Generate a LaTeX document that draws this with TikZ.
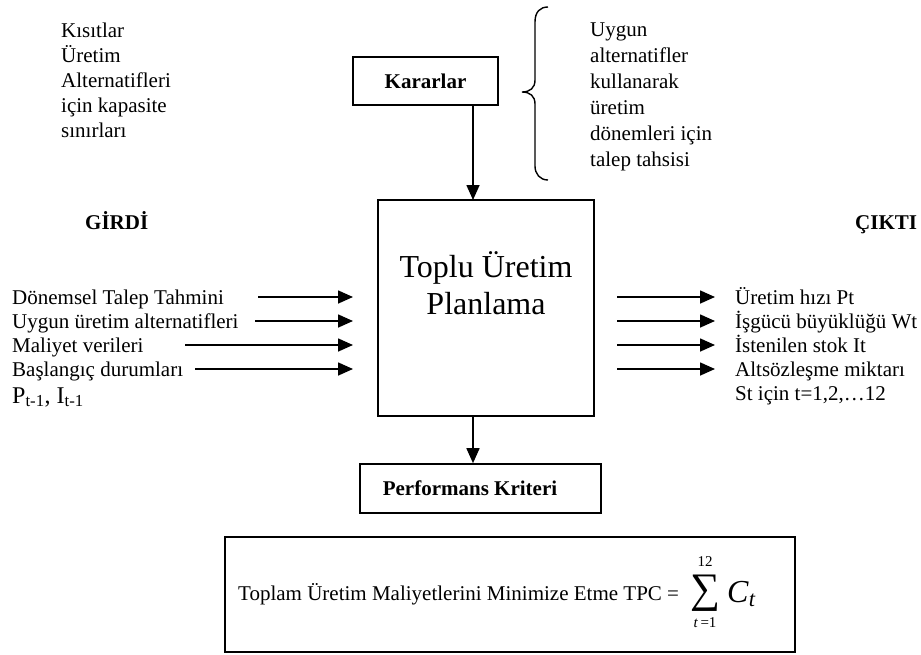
\documentclass[tikz,border=0pt]{standalone}
\usepackage{fontspec}
\setmainfont{Liberation Serif}
\usetikzlibrary{arrows.meta}
\begin{document}
\begin{tikzpicture}[x=1pt,y=-1pt,
  box/.style={draw,line width=1.6pt,inner sep=0pt},
  txt/.style={inner sep=0pt,font=\fontsize{21}{25}\selectfont},
  btxt/.style={inner sep=0pt,font=\fontsize{21}{25}\selectfont\bfseries},
  arr/.style={line width=1.6pt,-{Triangle[length=15pt,width=13pt]}}]
\useasboundingbox (0,0) rectangle (921,654);
% top left text
\node[txt,anchor=north west,align=left,font=\fontsize{21}{25}\selectfont] (kisit) at (61,23)
  {Kısıtlar\\Üretim\\Alternatifleri\\için kapasite\\sınırları};
% Kararlar
\node[box,minimum width=145pt,minimum height=48pt] (karar) at (425.5,81) {};
\node[btxt,anchor=base] (karart) at (425.5,88) {Kararlar};
% brace
\draw[line width=1.4pt] (548,7) .. controls (540,7) and (535,12) .. (535,22) -- (535,80)
  .. controls (535,88) and (530,92) .. (522,92) .. controls (530,92) and (535,96) .. (535,104)
  -- (535,166) .. controls (535,174) and (540,180) .. (548,180);
\node[txt,anchor=north west,align=left,font=\fontsize{21}{26}\selectfont] (tahsis) at (590,23)
  {Uygun\\alternatifler\\kullanarak\\üretim\\dönemleri için\\talep tahsisi};
% main box
\node[box,minimum width=216pt,minimum height=216pt] (toplu) at (486,308) {};
\node[inner sep=0pt,anchor=base,font=\fontsize{32}{37}\selectfont] (t1) at (486,277) {Toplu Üretim};
\node[inner sep=0pt,anchor=base,font=\fontsize{32}{37}\selectfont] (t2) at (486,314) {Planlama};
\coordinate (topin) at (473,105);
\coordinate (topout) at (473,200);
\draw[arr] (topin) -- (topout);
% GIRDI / CIKTI
\node[btxt,anchor=base west] (girdi) at (85,229) {GİRDİ};
\node[btxt,anchor=base west] (cikti) at (855,229) {ÇIKTI};
% inputs
\node[txt,anchor=base west] (i1) at (12,304) {Dönemsel Talep Tahmini};
\node[txt,anchor=base west] (i2) at (12,328) {Uygun üretim alternatifleri};
\node[txt,anchor=base west] (i3) at (12,352) {Maliyet verileri};
\node[txt,anchor=base west] (i4) at (12,376) {Başlangıç durumları};
\node[inner sep=0pt,anchor=base west,font=\fontsize{24}{28}\selectfont] (i5) at (12,403)
  {P\textsubscript{t-1}, I\textsubscript{t-1}};
\coordinate (a1s) at (258,297); \coordinate (a1e) at (353,297);
\coordinate (a2s) at (255,321); \coordinate (a2e) at (353,321);
\coordinate (a3s) at (185,345); \coordinate (a3e) at (353,345);
\coordinate (a4s) at (195,369); \coordinate (a4e) at (353,369);
\draw[arr] (a1s) -- (a1e);
\draw[arr] (a2s) -- (a2e);
\draw[arr] (a3s) -- (a3e);
\draw[arr] (a4s) -- (a4e);
% outputs
\coordinate (b1s) at (617,297); \coordinate (b1e) at (715,297);
\coordinate (b2s) at (617,321); \coordinate (b2e) at (715,321);
\coordinate (b3s) at (617,345); \coordinate (b3e) at (715,345);
\coordinate (b4s) at (617,369); \coordinate (b4e) at (715,369);
\draw[arr] (b1s) -- (b1e);
\draw[arr] (b2s) -- (b2e);
\draw[arr] (b3s) -- (b3e);
\draw[arr] (b4s) -- (b4e);
\node[txt,anchor=base west] (o1) at (735,304) {Üretim hızı Pt};
\node[txt,anchor=base west] (o2) at (735,328) {İşgücü büyüklüğü Wt};
\node[txt,anchor=base west] (o3) at (735,352) {İstenilen stok It};
\node[txt,anchor=base west] (o4) at (735,376) {Altsözleşme miktarı};
\node[txt,anchor=base west] (o5) at (735,400) {St için t=1,2,…12};
% performance
\node[box,minimum width=241pt,minimum height=49pt] (perf) at (480.5,488.5) {};
\node[btxt,anchor=base] (perft) at (470,495) {Performans Kriteri};
\draw[arr] (toplu.south -| topout) -- (perf.north -| topout);
% bottom box
\node[box,minimum width=570pt,minimum height=115pt] (tpc) at (510,594.5) {};
\node[txt,anchor=base west] (tpct) at (238,600) {Toplam Üretim Maliyetlerini Minimize Etme TPC =};
\node[inner sep=0pt,font=\fontsize{42}{42}\selectfont] (sum) at (705,593) {∑};
\node[inner sep=0pt,font=\fontsize{15}{15}\selectfont] (up) at (705,562) {12};
\node[inner sep=0pt,font=\fontsize{15}{15}\selectfont] (lo) at (705,623) {\textit{t}\,=1};
\node[inner sep=0pt,anchor=base west,font=\fontsize{32}{32}\selectfont] (ct) at (727,602) {\textit{C}\textsubscript{\textit{t}}};
\end{tikzpicture}
\end{document}
